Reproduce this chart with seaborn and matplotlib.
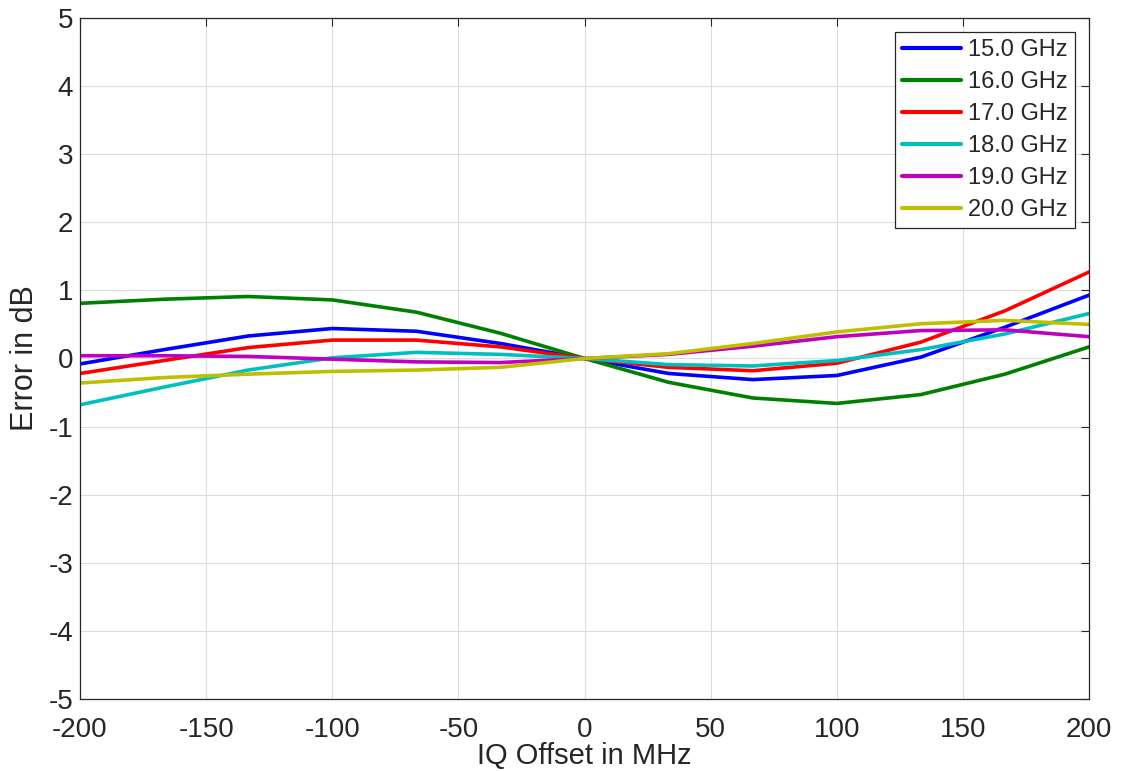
import matplotlib
matplotlib.use("Agg")
import matplotlib.pyplot as plt
import numpy as np
import pandas as pd
import seaborn as sns

offsets = [-200, -166.67, -133.33, -100, -66.67, -33.33, 0, 33.33, 66.67, 100, 133.33, 166.67, 200]
labels = ["15.0 GHz", "16.0 GHz", "17.0 GHz", "18.0 GHz", "19.0 GHz", "20.0 GHz"]
err_15 = [-0.08, 0.13, 0.33, 0.44, 0.40, 0.22, 0.0, -0.22, -0.31, -0.25, 0.02, 0.46, 0.93]
err_16 = [0.81, 0.87, 0.91, 0.86, 0.68, 0.37, 0.0, -0.35, -0.58, -0.66, -0.53, -0.23, 0.17]
err_17 = [-0.22, -0.03, 0.16, 0.27, 0.27, 0.17, 0.0, -0.13, -0.18, -0.07, 0.24, 0.70, 1.27]
err_18 = [-0.68, -0.42, -0.17, 0.01, 0.09, 0.06, 0.0, -0.09, -0.11, -0.03, 0.13, 0.36, 0.66]
err_19 = [0.04, 0.04, 0.03, -0.01, -0.05, -0.06, 0.0, 0.06, 0.18, 0.32, 0.41, 0.42, 0.32]
err_20 = [-0.36, -0.28, -0.23, -0.19, -0.17, -0.13, 0.0, 0.07, 0.22, 0.39, 0.51, 0.56, 0.50]
colors = ["#0000FF", "#008000", "#FF0000", "#00BFBF", "#BF00BF", "#BFBF00"]

series = [err_15, err_16, err_17, err_18, err_19, err_20]
df = pd.DataFrame({
    "offset": np.tile(offsets, len(labels)),
    "error": np.concatenate(series),
    "freq": np.repeat(labels, len(offsets)),
})

sns.set_theme(style="white")
plt.rcParams["font.family"] = ["Liberation Sans", "DejaVu Sans"]
plt.rcParams["axes.unicode_minus"] = False

fig = plt.figure(figsize=(11.21, 7.71), dpi=100)
ax = fig.add_axes([0.0714, 0.0934, 0.9001, 0.8833])

sns.lineplot(data=df, x="offset", y="error", hue="freq", palette=colors,
             linewidth=2.6, ax=ax, sort=False, estimator=None)

ax.set_xlim(-200, 200)
ax.set_ylim(-5, 5)
ax.set_xticks(np.arange(-200, 201, 50))
ax.set_yticks(np.arange(-5, 6, 1))
ax.grid(True, color="#dcdcdc", linewidth=0.8)
ax.tick_params(direction="in", length=6, width=0.8, colors="#262626",
               labelsize=20, top=True, right=True, labelcolor="#262626")
ax.tick_params(axis="x", pad=13)
ax.tick_params(axis="y", pad=5)
for s in ax.spines.values():
    s.set_color("#262626")
    s.set_linewidth(0.9)
ax.set_xlabel("IQ Offset in MHz", fontsize=21, color="#262626", labelpad=-1)
ax.set_ylabel("Error in dB", fontsize=22, color="#262626", labelpad=6)

leg = ax.legend(loc="upper right", fontsize=17, frameon=True, fancybox=False,
                handlelength=2.5, handletextpad=0.3, borderpad=0.3,
                borderaxespad=0.6, labelspacing=0.42)
leg.get_frame().set_edgecolor("#262626")
leg.get_frame().set_linewidth(0.9)
leg.get_frame().set_alpha(1)
for line in leg.get_lines():
    line.set_linewidth(3)

fig.savefig("out.png", dpi=100)
